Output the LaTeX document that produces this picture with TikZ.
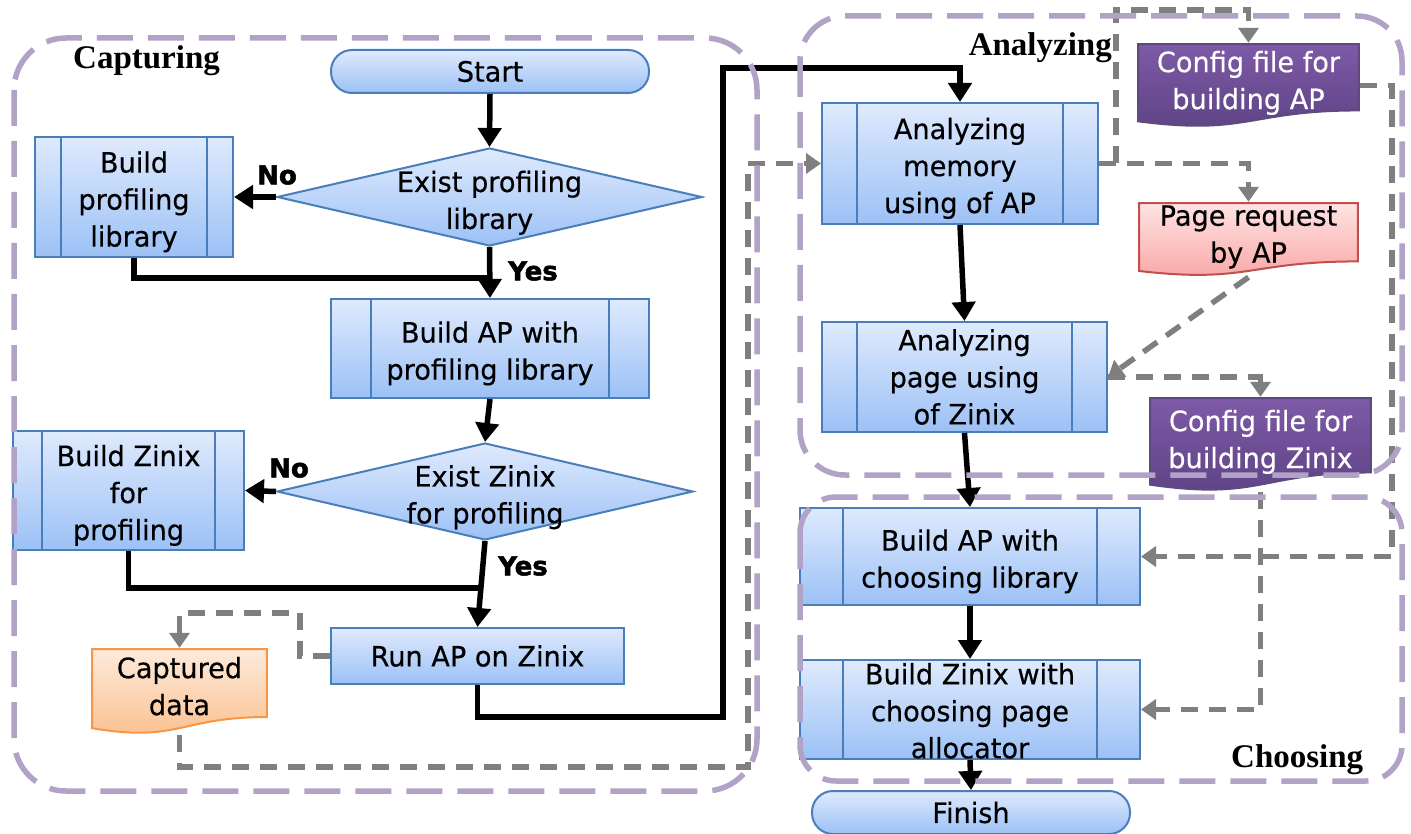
\documentclass[tikz,border=0pt]{standalone}
\usepackage{fontspec}
\setmainfont{DejaVu Sans}[FakeStretch=0.97,FakeBold=0.4]
\newfontfamily\grpfont{Liberation Serif}
\newfontfamily\ansfont{DejaVu Sans}[BoldFeatures={FakeBold=2}]
\usetikzlibrary{arrows.meta,shapes.geometric,calc}

\definecolor{boxtop}{HTML}{DFEAFD}
\definecolor{boxbot}{HTML}{9CC1F6}
\definecolor{boxedge}{HTML}{4A7EBB}
\definecolor{purtop}{HTML}{7E5AA7}
\definecolor{purbot}{HTML}{5C4283}
\definecolor{puredge}{HTML}{5F4A80}
\definecolor{pnktop}{HTML}{FFE4E4}
\definecolor{pnkbot}{HTML}{F9A3A3}
\definecolor{pnkedge}{HTML}{C0504D}
\definecolor{orgtop}{HTML}{FDEBDC}
\definecolor{orgbot}{HTML}{FBBE8C}
\definecolor{orgedge}{HTML}{F79646}
\definecolor{grpcol}{HTML}{B3A2C7}
\definecolor{graylin}{HTML}{7F7F7F}

% extra depth under the last line of a document shape, so its text sits higher
\newcommand\docpad{\rule[-11pt]{0pt}{11pt}}
% extra height above the first line of a process box, so its text sits lower
\newcommand\procpad{\rule{0pt}{31pt}}
% same for the two-line text of a decision
\newcommand\decpad{\rule{0pt}{38pt}}

\begin{document}
\begin{tikzpicture}[x=1pt,y=-1pt,
  txt/.style={font=\fontsize{28}{37}\selectfont, align=center},
  shaded/.style={draw=boxedge, line width=2pt, top color=boxtop, bottom color=boxbot, inner sep=0pt, txt},
  stadium/.style={shaded, rectangle, rounded corners=21pt},
  plainbox/.style={shaded, rectangle},
  proc/.style={shaded, rectangle,
    path picture={\draw[boxedge, line width=1.6pt]
      ([xshift=#1]path picture bounding box.north west) -- ([xshift=#1]path picture bounding box.south west)
      ([xshift=-#1]path picture bounding box.north east) -- ([xshift=-#1]path picture bounding box.south east);}},
  decision/.style={shaded, diamond},
  docshape/.style n args={3}{rectangle, inner sep=0pt, txt,
    path picture={\shadedraw[top color=#1, bottom color=#2, draw=#3, line width=2pt]
      let \p1=($(path picture bounding box.north west)+(1.2pt,-1.2pt)$),
          \p2=($(path picture bounding box.south east)+(-1.2pt,1.2pt)$) in
      (\x1,\y1) -- (\x2,\y1) -- (\x2,{\y1+0.802*(\y2-\y1)})
      .. controls ({0.5*(\x1+\x2)},{\y1+0.802*(\y2-\y1)}) and ({0.5*(\x1+\x2)},{\y1+1.107*(\y2-\y1)})
      .. (\x1,{\y1+0.934*(\y2-\y1)}) -- cycle;}},
  ans/.style={font=\ansfont\bfseries\fontsize{26}{30}\selectfont, inner sep=0pt},
  grplbl/.style={font=\grpfont\bfseries\fontsize{33}{40}\selectfont, inner sep=0pt},
  blkline/.style={line width=5.5pt, black},
  blk/.style={blkline, -{Triangle[length=19pt,width=23pt]}},
  gryline/.style={draw=graylin, line width=5.5pt, dash pattern=on 17pt off 11pt},
  gry/.style={gryline, -{Triangle[length=15pt,width=20pt]}},
  grp/.style={draw=grpcol, line width=5.5pt, dash pattern=on 36pt off 15pt}
]
\useasboundingbox (0,0) rectangle (1411,834);

% ---------- capturing stage ----------
\node[stadium, minimum width=318pt, minimum height=43pt] (start) at (490,71.5) {Start};
\node[decision, minimum width=425pt, minimum height=98pt] (d1) at (489.5,197)
  {\makebox[0pt]{\begin{tabular}{@{}c@{}}\decpad Exist profiling\\library\end{tabular}}};
\node[proc=26pt, minimum width=198pt, minimum height=120pt] (bpl) at (134,197) {\procpad Build\\profiling\\library};
\node[proc=40pt, minimum width=318pt, minimum height=99pt] (bap) at (490,348.5) {\procpad Build AP with\\profiling library};
\node[decision, minimum width=416pt, minimum height=97pt] (d2) at (485,491.5)
  {\makebox[0pt]{\begin{tabular}{@{}c@{}}\decpad Exist Zinix\\for profiling\end{tabular}}};
\node[proc=29pt, minimum width=231pt, minimum height=119pt] (bzp) at (128.5,490.5) {\procpad Build Zinix\\for\\profiling};
\node[plainbox, minimum width=293pt, minimum height=56pt] (run) at (477.5,656) {Run AP on Zinix};
\node[docshape={orgtop}{orgbot}{orgedge}, minimum width=177pt, minimum height=87pt] (cap) at (179.5,691.5) {Captured\\data\docpad};

% ---------- analyzing stage ----------
\node[proc=35pt, minimum width=276pt, minimum height=121pt] (mem) at (960,163.5) {\procpad Analyzing\\memory\\using of AP};
\node[proc=35pt, minimum width=285pt, minimum height=110pt] (pag) at (964.5,377) {Analyzing\\page using\\of Zinix};
\node[docshape={purtop}{purbot}{puredge}, text=white, minimum width=223pt, minimum height=85pt] (cfa) at (1248.5,85.5) {Config file for\\building AP\docpad};
\node[docshape={pnktop}{pnkbot}{pnkedge}, minimum width=221pt, minimum height=75pt] (prq) at (1248.5,239.5) {Page request\\by AP\docpad};
\node[docshape={purtop}{purbot}{puredge}, text=white, minimum width=223pt, minimum height=95pt] (cfz) at (1260.5,444.5) {Config file for\\building Zinix\docpad};

% ---------- choosing stage ----------
\node[proc=43pt, minimum width=340pt, minimum height=97pt] (bac) at (970,556.5) {\procpad Build AP with\\choosing library};
\node[proc=43pt, minimum width=340pt, minimum height=99pt] (bzc) at (970,709.5) {\rule{0pt}{24pt}Build Zinix with\\choosing page\\allocator};
\node[stadium, minimum width=318pt, minimum height=43pt] (fin) at (971,812.5) {Finish};

% ---------- control flow ----------
\coordinate (j1) at (489.5,278);
\coordinate (j2) at (481.5,588);
\draw[blk] (start.south) -- (d1.north);
\draw[blk] (d1.west) -- (bpl.east);
\draw[blk] (d1.south) -- (bap.north);
\draw[blkline] (bpl.south) |- (j1);
\draw[blk] (bap.south) -- (d2.north);
\draw[blk] (d2.west) -- (bzp.east);
\draw[blk] (d2.south) -- (run.north);
\draw[blkline] (bzp.south) |- (j2);
\draw[blk] (run.south) |- (723,717) -- (723,68) -| (mem.north);
\draw[blk] (mem.south) -- (pag.north);
\draw[blk] (pag.south) -- (bac.north);
\draw[blk] (bac.south) -- (bzc.north);
\draw[blk] (bzc.south) -- (fin.north);

\node[ans] (no1) at (277,175) {No};
\node[ans] (yes1) at (533,271) {Yes};
\node[ans] (no2) at (289,468) {No};
\node[ans] (yes2) at (523,566) {Yes};

% ---------- data flow ----------
\coordinate (br) at (1116,163.5);
\draw[gry] (run.west) -| (300,613) -| (cap.north);
\draw[gry] (cap.south) |- (748,767) |- (mem.west);
\draw[gry] (mem.east) -| (prq.north);
\draw[gry] (br) -- (1116,10) -| (cfa.north);
\draw[gry] (prq.south) -- (pag.east);
\draw[gry] (pag.east) -| (cfz.north);
\draw[gry] (cfa.east) -- (1392,85.5) |- (bac.east);
\draw[gry] (cfz.south) |- (bzc.east);

% ---------- stage frames ----------
\draw[grp, rounded corners=52pt] (14,38) rectangle (757,791);
\draw[grp, rounded corners=45pt] (800,16) rectangle (1402,475);
\draw[grp, rounded corners=36pt] (800,497) rectangle (1402,781);
\node[grplbl, anchor=base west] (lcap) at (73,69) {Capturing};
\node[grplbl, anchor=base east] (lana) at (1112,56) {Analyzing};
\node[grplbl, anchor=base west] (lcho) at (1231,767) {Choosing};
\end{tikzpicture}
\end{document}
